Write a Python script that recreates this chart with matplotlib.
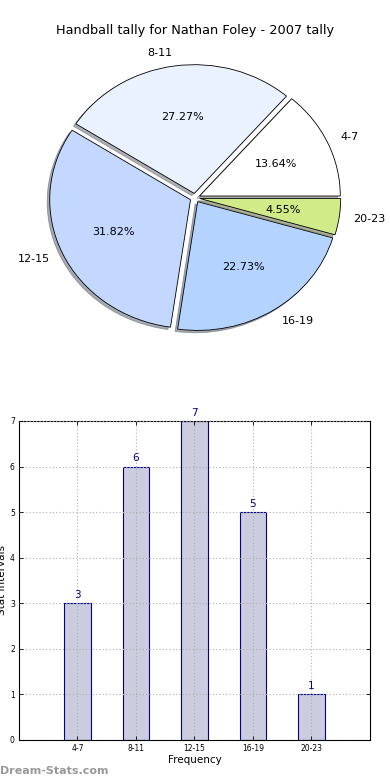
import matplotlib
matplotlib.use("Agg")
import matplotlib.pyplot as plt

categories = ["4-7", "8-11", "12-15", "16-19", "20-23"]
counts = [3, 6, 7, 5, 1]
pie_colors = ["#ffffff", "#eaf1ff", "#c4d8ff", "#b4d4ff", "#d0eb88"]
yticks = [0, 1, 2, 3, 4, 5, 6, 7]

fig = plt.figure(figsize=(3.9, 7.8), dpi=100)

# Pie chart
ax1 = fig.add_axes([0.0487, 0.540, 0.9026, 0.4126])
wedges, texts, autotexts = ax1.pie(
    counts, labels=categories, colors=pie_colors, explode=[0.035] * len(counts),
    shadow=dict(ox=-0.013, oy=-0.013, shade=0.6), autopct="%1.2f%%", startangle=0,
    wedgeprops=dict(edgecolor="black", linewidth=0.6),
    textprops=dict(fontsize=8))
ax1.set_aspect("auto")
ax1.set_xlim(-1.25, 1.25)
ax1.set_ylim(-1.25, 1.25)
fig.text(0.5, 0.961, "Handball tally for Nathan Foley - 2007 tally",
         ha="center", va="center", fontsize=9.3)

# Bar chart
ax2 = fig.add_axes([0.0487, 0.0513, 0.9000, 0.4090])
xpos = list(range(len(categories)))
bars = ax2.bar(xpos, counts, width=0.45, color="#ccccdf", edgecolor="#00008b",
               linewidth=0.8, zorder=2)
for x, v in zip(xpos, counts):
    ax2.text(x, v + 0.07, str(v), ha="center", va="bottom", color="#00008b",
             fontsize=7.5)
ax2.set_xlim(-1, 5)
ax2.set_ylim(0, 7)
ax2.set_xticks(xpos)
ax2.set_xticklabels(categories, fontsize=5.5)
ax2.set_yticks(yticks)
ax2.set_yticklabels([str(t) for t in yticks], fontsize=5.5)
ax2.tick_params(direction="in", length=3, width=0.6, pad=3)
ax2.tick_params(top=True, right=True)
ax2.grid(True, linestyle=(0, (1, 2)), color="#b0b0b0", linewidth=0.8, zorder=3)
ax2.set_axisbelow(False)
ax2.set_xlabel("Frequency", fontsize=7.5, labelpad=1)
ax2.set_ylabel("Stat Intervals", fontsize=7.5, labelpad=2)
for s in ax2.spines.values():
    s.set_linewidth(0.8)

fig.text(0.0, 0.0115, "Dream-Stats.com", ha="left", va="center",
         fontsize=8, color="#999999", fontweight="semibold")

fig.savefig("out.png", dpi=100)
